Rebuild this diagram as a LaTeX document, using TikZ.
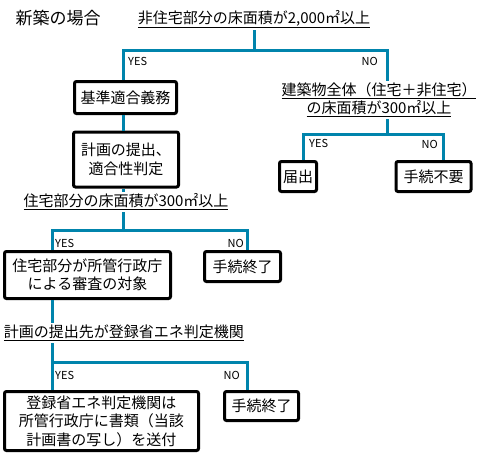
\documentclass[tikz,border=0pt]{standalone}
\usepackage{fontspec}
\setmainfont{Noto Sans CJK JP}
\usetikzlibrary{positioning,calc}
\definecolor{flowblue}{RGB}{0,132,172}

\begin{document}
\begin{tikzpicture}[x=1pt,y=-1pt,
    box/.style={draw=black,line width=3pt,rounded corners=2pt,align=center,
                inner xsep=3pt,inner ysep=3pt,
                font=\fontsize{15}{18.5}\selectfont},
    quest/.style={inner sep=2pt,align=center,
                  font=\fontsize{15}{18}\selectfont},
    yn/.style={inner sep=0pt,font=\fontsize{11}{13}\selectfont},
    link/.style={draw=flowblue,line width=3pt}]
  \useasboundingbox (0,0) rectangle (480,455);

  % questions
  \node[anchor=west,font=\fontsize{17}{20}\selectfont] (title) at (12,18) {新築の場合};
  \node[quest] (q1) at (254,19) {\underline{非住宅部分の床面積が2,000㎡以上}};
  \node[quest] (q4) at (379,100) {\underline{建築物全体（住宅＋非住宅）}\\\underline{の床面積が300㎡以上}};
  \node[quest] (q2) at (126,202) {\underline{住宅部分の床面積が300㎡以上}};
  \node[quest] (q3) at (124,333) {\underline{計画の提出先が登録省エネ判定機関}};

  % boxes
  \node[box,minimum width=102pt,minimum height=32pt] (box1) at (125.5,97.5) {基準適合義務};
  \node[box,minimum width=105pt,minimum height=55pt] (box2) at (126,159.5) {計画の提出、\\適合性判定};
  \node[box,minimum width=37pt,minimum height=30pt] (box7) at (298,176.5) {届出};
  \node[box,minimum width=75pt,minimum height=30pt] (box8) at (433.5,176.5) {手続不要};
  \node[box,minimum width=166pt,minimum height=47pt] (box3) at (87.5,275) {住宅部分が所管行政庁\\による審査の対象};
  \node[box,minimum width=76pt,minimum height=30pt] (box4) at (242.5,266.5) {手続終了};
  \node[box,minimum width=194pt,minimum height=59pt] (box5) at (101.5,421) {登録省エネ判定機関は\\所管行政庁に書類（当該\\計画書の写し）を送付};
  \node[box,minimum width=74pt,minimum height=29pt] (box6) at (261.5,406) {手続終了};

  % branch points
  \coordinate (j1l) at (123,50);  \coordinate (j1r) at (387,50);
  \coordinate (j4l) at (303,134); \coordinate (j4r) at (443,134);
  \coordinate (j2l) at (52,230);  \coordinate (j2r) at (247,230);
  \coordinate (j3l) at (52,362);  \coordinate (j3r) at (247,362);

  % connectors
  \draw[link] (q1.south) -- (q1.south |- j1l);
  \draw[link] (box1.north -| j1l) |- (j1r) -- (q4.north -| j1r);
  \draw[link] (box1.south -| j1l) -- (box2.north -| j1l);
  \draw[link] (box2.south -| j1l) -- (q2.north -| j1l);
  \draw[link] (q4.south -| j1r) -- (j4l -| j1r);
  \draw[link] (box7.north -| j4l) |- (j4r) -- (box8.north -| j4r);
  \draw[link] (q2.south -| j1l) -- (j2l -| j1l);
  \draw[link] (box3.north -| j2l) |- (j2r) -- (box4.north -| j2r);
  \draw[link] (box3.south -| j2l) -- (q3.north -| j2l);
  \draw[link] (q3.south -| j3l) -- (j3l);
  \draw[link] (box5.north -| j3l) |- (j3r) -- (box6.north -| j3r);

  % yes / no
  \foreach \n/\pos/\a/\t in {yes1/{(128,61)}/west/YES, no1/{(378,61)}/east/NO,
                             yes4/{(309,143)}/west/YES, no4/{(438,144)}/east/NO,
                             yes2/{(55,243)}/west/YES, no2/{(244,243)}/east/NO,
                             yes3/{(55,375)}/west/YES, no3/{(240,375)}/east/NO}
    \node[yn,anchor=\a] (\n) at \pos {\t};
\end{tikzpicture}
\end{document}
